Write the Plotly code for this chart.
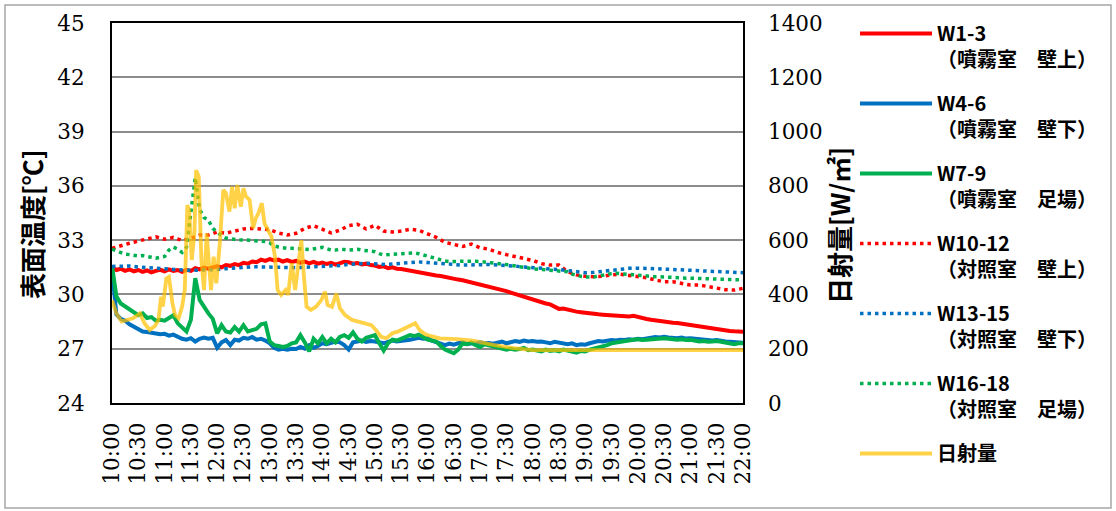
import plotly.graph_objects as go

# ---------------------------------------------------------------- data
# time axis (minutes after 10:00) and its labels
TICK_LABELS = ["10:00", "10:30", "11:00", "11:30", "12:00", "12:30", "13:00",
               "13:30", "14:00", "14:30", "15:00", "15:30", "16:00", "16:30",
               "17:00", "17:30", "18:00", "18:30", "19:00", "19:30", "20:00",
               "20:30", "21:00", "21:30", "22:00"]
TICK_MINUTES = list(range(0, 721, 30))

T5 = list(range(0, 721, 5))     # 5-minute samples
T10 = list(range(0, 721, 10))   # 10-minute samples

# 噴霧室 surface temperatures [°C] (5-minute samples)
W1_3 = [31.50, 31.35, 31.42, 31.30, 31.38, 31.28, 31.35, 31.25, 31.33, 31.22,
        31.30, 31.36, 31.28, 31.38, 31.30, 31.35, 31.25, 31.36, 31.30, 31.45,
        31.38, 31.48, 31.42, 31.50, 31.55, 31.50, 31.62, 31.58, 31.68, 31.62,
        31.75, 31.70, 31.82, 31.78, 31.92, 31.85, 31.95, 31.88, 31.92, 31.82,
        31.90, 31.80, 31.85, 31.75, 31.82, 31.72, 31.80, 31.70, 31.76, 31.68,
        31.75, 31.65, 31.72, 31.80, 31.78, 31.70, 31.74, 31.66, 31.70, 31.62,
        31.60, 31.52, 31.55, 31.45, 31.50, 31.42, 31.40, 31.35, 31.30, 31.25,
        31.22, 31.18, 31.15, 31.10, 31.05, 31.02, 30.96, 30.92, 30.85, 30.82,
        30.78, 30.72, 30.70, 30.62, 30.55, 30.50, 30.45, 30.40, 30.32, 30.25,
        30.18, 30.10, 30.02, 29.95, 29.88, 29.80, 29.72, 29.65, 29.58, 29.50,
        29.45, 29.30, 29.20, 29.22, 29.15, 29.10, 29.05, 29.02, 28.98, 28.95,
        28.92, 28.90, 28.88, 28.86, 28.85, 28.84, 28.82, 28.80, 28.78, 28.82,
        28.75, 28.68, 28.64, 28.60, 28.56, 28.54, 28.50, 28.47, 28.44, 28.42,
        28.38, 28.36, 28.32, 28.28, 28.24, 28.20, 28.16, 28.13, 28.10, 28.06,
        28.02, 27.98, 27.96, 27.94, 27.94]

W4_6 = [31.40, 28.90, 28.65, 28.55, 28.35, 28.20, 28.05, 27.95, 27.92, 27.88,
        27.85, 27.80, 27.82, 27.72, 27.78, 27.65, 27.55, 27.50, 27.58, 27.40,
        27.55, 27.62, 27.55, 27.60, 27.05, 27.35, 27.48, 27.20, 27.50, 27.45,
        27.60, 27.55, 27.65, 27.50, 27.55, 27.45, 27.30, 27.05, 26.95, 27.00,
        26.95, 27.00, 26.98, 27.10, 27.00, 27.20, 27.05, 27.15, 27.30, 27.25,
        27.30, 27.40, 27.35, 27.20, 26.95, 27.35, 27.40, 27.45, 27.38, 27.42,
        27.40, 27.35, 27.30, 27.38, 27.45, 27.40, 27.42, 27.48, 27.50, 27.55,
        27.60, 27.55, 27.58, 27.45, 27.35, 27.25, 27.20, 27.28, 27.22, 27.30,
        27.35, 27.25, 27.30, 27.28, 27.35, 27.30, 27.32, 27.28, 27.35, 27.40,
        27.30, 27.35, 27.42, 27.38, 27.45, 27.40, 27.42, 27.38, 27.40, 27.35,
        27.30, 27.38, 27.32, 27.28, 27.25, 27.30, 27.20, 27.25, 27.22, 27.30,
        27.38, 27.42, 27.40, 27.45, 27.48, 27.45, 27.50, 27.48, 27.52, 27.50,
        27.55, 27.52, 27.58, 27.62, 27.65, 27.62, 27.66, 27.62, 27.60, 27.58,
        27.62, 27.56, 27.58, 27.55, 27.50, 27.52, 27.48, 27.45, 27.48, 27.42,
        27.40, 27.38, 27.35, 27.36, 27.33]

W7_9 = [31.60, 29.90, 29.50, 29.35, 29.20, 29.00, 28.85, 28.95, 28.70, 28.75,
        28.55, 28.60, 28.55, 28.70, 28.85, 28.40, 28.20, 27.95, 28.60, 30.90,
        29.70, 29.30, 28.95, 28.65, 27.85, 28.30, 27.95, 27.90, 28.20, 27.95,
        28.30, 27.95, 28.00, 28.10, 28.35, 28.40, 27.40, 27.20, 27.15, 27.10,
        27.15, 27.30, 27.35, 27.75, 27.35, 26.85, 27.55, 27.30, 27.65, 27.30,
        27.55, 27.35, 27.65, 27.75, 27.60, 27.90, 27.55, 27.40, 27.60, 27.65,
        27.75, 27.30, 26.90, 27.30, 27.50, 27.45, 27.55, 27.60, 27.75, 27.70,
        27.78, 27.65, 27.50, 27.45, 27.40, 27.15, 26.95, 26.85, 26.75, 26.95,
        27.30, 27.25, 27.35, 27.20, 27.10, 27.25, 27.20, 27.15, 27.05, 27.00,
        26.95, 27.00, 26.95, 26.98, 27.05, 26.92, 26.95, 26.90, 26.85, 26.95,
        26.88, 26.92, 26.85, 26.95, 26.90, 26.80, 26.78, 26.88, 26.85, 26.95,
        27.00, 27.05, 27.10, 27.20, 27.30, 27.35, 27.40, 27.42, 27.45, 27.50,
        27.52, 27.48, 27.50, 27.52, 27.55, 27.58, 27.58, 27.55, 27.52, 27.50,
        27.52, 27.48, 27.50, 27.45, 27.40, 27.42, 27.38, 27.40, 27.42, 27.38,
        27.35, 27.30, 27.25, 27.30, 27.30]

# 対照室 surface temperatures [°C]
W10_12 = [32.55, 32.70, 32.83, 32.95, 33.05, 33.18, 33.05, 33.15, 32.98, 33.10,
          33.28, 33.28, 33.45, 33.38, 33.50, 33.62, 33.65, 33.60, 33.58, 33.40,
          33.28, 33.38, 33.65, 33.80, 33.62, 33.40, 33.55, 33.80, 33.88, 33.62,
          33.82, 33.50, 33.45, 33.50, 33.60, 33.55, 33.35, 33.15, 32.88, 32.75,
          32.65, 32.78, 32.58, 32.50, 32.32, 32.20, 32.10, 31.98, 31.88, 31.70,
          31.62, 31.62, 31.25, 31.08, 31.00, 30.98, 31.00, 31.08, 31.12, 31.05,
          31.00, 30.92, 30.80, 30.70, 30.70, 30.60, 30.52, 30.52, 30.45, 30.35,
          30.26, 30.24, 30.34]          # 10-minute samples

W13_15 = [31.55, 31.58, 31.57, 31.52, 31.50, 31.45, 31.42, 31.38, 31.35, 31.33,
          31.34, 31.35, 31.38, 31.42, 31.47, 31.50, 31.53, 31.52, 31.50, 31.48,
          31.47, 31.48, 31.50, 31.52, 31.53, 31.55, 31.60, 31.66, 31.70, 31.72,
          31.70, 31.66, 31.68, 31.72, 31.78, 31.80, 31.76, 31.72, 31.68, 31.63,
          31.62, 31.63, 31.66, 31.65, 31.63, 31.60, 31.56, 31.53, 31.50, 31.47,
          31.42, 31.37, 31.32, 31.25, 31.20, 31.22, 31.28, 31.34, 31.40, 31.44,
          31.45, 31.45, 31.42, 31.40, 31.38, 31.36, 31.33, 31.30, 31.27, 31.25,
          31.22, 31.20, 31.20]          # 10-minute samples

W16_18 = [32.50, 32.40, 32.30, 32.22, 32.20, 32.15, 32.12, 32.15, 32.08, 32.05,
          32.00, 32.05, 32.10, 32.45, 32.62, 32.50, 32.32, 32.60, 34.60, 36.45,
          34.70, 34.25, 34.10, 33.65, 33.45, 33.25, 33.12, 33.08, 33.05, 33.00,
          33.02, 33.00, 32.98, 33.00, 32.95, 32.92, 32.85, 32.68, 32.62, 32.58,
          32.55, 32.55, 32.52, 32.50, 32.50, 32.48, 32.50, 32.55, 32.60, 32.52,
          32.45, 32.45, 32.50, 32.48, 32.45, 32.47, 32.50, 32.45, 32.42, 32.40,
          32.36, 32.25, 32.18, 32.20, 32.22, 32.25, 32.25, 32.28, 32.30, 32.30,
          32.25, 32.18, 32.10, 32.02, 31.96, 31.90, 31.85, 31.82, 31.80, 31.82,
          31.84, 31.85, 31.85, 31.83, 31.82, 31.80, 31.76, 31.72, 31.70, 31.68,
          31.65, 31.62, 31.58, 31.55, 31.50, 31.46, 31.42, 31.40, 31.38, 31.35,
          31.34, 31.32, 31.30, 31.30, 31.25, 31.12, 31.04, 31.00, 30.97, 30.95,
          30.97, 31.02, 31.08, 31.12, 31.15, 31.17, 31.15, 31.10, 31.07, 31.05,
          31.04, 31.02, 31.00, 31.00, 30.98, 30.98, 30.96, 30.95, 30.94, 30.93,
          30.92, 30.90, 30.90, 30.89, 30.87, 30.85, 30.84, 30.83, 30.82, 30.81,
          30.80, 30.80, 30.80, 30.80, 30.80]   # 5-minute samples

# solar radiation [W/m2]
SOLAR_MIN = [0, 5, 11, 16, 24, 32, 37, 43, 49, 53,
             56, 58, 62, 65, 69, 72, 76, 80, 83, 86,
             88, 91, 94, 96, 99, 102, 105, 108, 110, 113,
             116, 119, 123, 127, 130, 134, 137, 140, 143, 147,
             150, 153, 157, 161, 164, 167, 171, 174, 178, 182,
             186, 189, 193, 198, 201, 205, 209, 212, 216, 219,
             222, 227, 233, 239, 243, 246, 251, 256, 260, 266,
             274, 281, 289, 296, 301, 307, 313, 320, 326, 336,
             346, 351, 357, 363, 374, 394, 412, 435, 458, 480,
             557, 720]
SOLAR_WM2 = [379, 330, 300, 306, 312, 330, 294, 269, 284, 306,
             392, 355, 459, 465, 367, 324, 312, 355, 416, 729,
             711, 527, 625, 858, 834, 527, 416, 625, 527, 416,
             539, 441, 588, 785, 773, 705, 797, 717, 803, 723,
             791, 760, 748, 644, 680, 699, 736, 662, 637, 613,
             539, 416, 398, 416, 398, 515, 416, 490, 600, 465,
             355, 343, 355, 380, 410, 361, 354, 404, 349, 324,
             306, 300, 294, 287, 269, 244, 239, 257, 263, 280,
             294, 269, 254, 247, 238, 235, 230, 214, 202, 195,
             195, 195]

NAMES = ["W1-3<br>（噴霧室　壁上）", "W4-6<br>（噴霧室　壁下）",
         "W7-9<br>（噴霧室　足場）", "W10-12<br>（対照室　壁上）",
         "W13-15<br>（対照室　壁下）", "W16-18<br>（対照室　足場）", "日射量"]

# ---------------------------------------------------------------- style
RED, BLUE, GREEN = "#FF0000", "#0070C0", "#00B050"
GOLD = "rgba(255,192,0,0.72)"
DOTS = "3.5px,4px"

W, H = 1116, 511
ML, MR, MT, MB = 112, 373, 23, 108
PW, PH = W - ML - MR, H - MT - MB


def px_x(px):
    return (px - ML) / PW


def px_y(py):
    return (H - MB - py) / PH


SERIF = "DejaVu Serif"
GOTHIC = "Noto Sans CJK JP"
GRID = "#8c8c8c"

series = [
    (T5, W1_3, RED, "solid"),
    (T5, W4_6, BLUE, "solid"),
    (T5, W7_9, GREEN, "solid"),
    (T10, W10_12, RED, DOTS),
    (T10, W13_15, BLUE, DOTS),
    (T5, W16_18, GREEN, DOTS),
]

fig = go.Figure()
for i, (xs, ys, col, dash) in enumerate(series):
    fig.add_trace(go.Scatter(
        x=xs, y=ys, mode="lines", name=NAMES[i], legendgroup=str(i),
        line=dict(color=col, width=4 if dash == "solid" else 3.5, dash=dash),
    ))

fig.add_trace(go.Scatter(
    x=SOLAR_MIN, y=SOLAR_WM2, mode="lines", name=NAMES[6], legendgroup="6",
    yaxis="y2", line=dict(color=GOLD, width=3.8),
))

tickfont = dict(family=SERIF, size=21.5, color="black")
titlefont = dict(family=GOTHIC, size=26, color="black", weight="bold")

fig.update_layout(
    width=W, height=H,
    margin=dict(l=ML, r=MR, t=MT, b=MB),
    paper_bgcolor="white", plot_bgcolor="white",
    xaxis=dict(range=[0, 720], tickmode="array", tickvals=TICK_MINUTES,
               ticktext=TICK_LABELS, tickangle=-90, tickfont=tickfont,
               showgrid=False, zeroline=False, showline=True, mirror=True,
               linecolor="black", linewidth=2, ticks="", ticklabelstandoff=9),
    xaxis2=dict(range=[0, 720], overlaying="x", anchor="y", dtick=60, tick0=0,
                showgrid=True, gridcolor=GRID, gridwidth=1.8,
                showticklabels=False, zeroline=False, showline=False),
    yaxis=dict(range=[24, 45], dtick=3, tick0=24, tickfont=tickfont,
               showgrid=True, gridcolor=GRID, gridwidth=1.8, zeroline=False,
               showline=True, mirror=True, linecolor="black", linewidth=2,
               ticks="", ticklabelstandoff=21),
    yaxis2=dict(range=[0, 1400], dtick=200, tick0=0, overlaying="y",
                side="right", tickfont=tickfont, showgrid=False,
                zeroline=False, ticks="", ticklabelstandoff=24),
    legend=dict(x=px_x(855), xanchor="left", y=px_y(14), yanchor="top",
                font=dict(family=GOTHIC, size=20, color="black", weight="bold"),
                itemwidth=72, tracegroupgap=15, valign="top", maxheight=600,
                bgcolor="rgba(0,0,0,0)"),
    annotations=[
        dict(text="表面温度[℃]", textangle=-90, x=px_x(31), y=px_y(224),
             xref="paper", yref="paper", xanchor="center", yanchor="middle",
             showarrow=False, font=titlefont),
        dict(text="日射量[W/㎡]", textangle=-90, x=px_x(838), y=px_y(226),
             xref="paper", yref="paper", xanchor="center", yanchor="middle",
             showarrow=False, font=titlefont),
    ],
    shapes=[
        dict(type="rect", xref="paper", yref="paper",
             x0=px_x(5), x1=px_x(1111), y0=px_y(508), y1=px_y(5),
             line=dict(color="#a6a6a6", width=1.5), layer="below"),
    ],
)

fig.write_html("out.html")
